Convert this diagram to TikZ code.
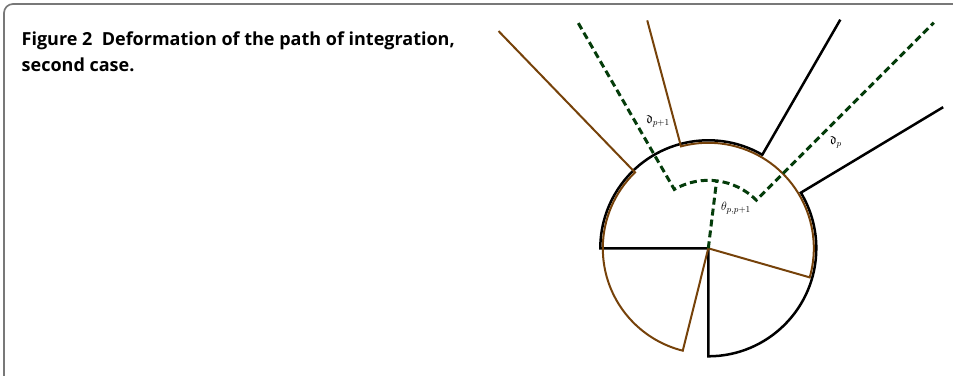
\documentclass[tikz,border=0pt]{standalone}
\usepackage{amssymb}
\usepackage{fontspec}
\newfontfamily\capfont{Open Sans}
\definecolor{framegray}{RGB}{120,120,120}
\definecolor{pathbrown}{RGB}{118,66,10}
\definecolor{pathgreen}{RGB}{4,60,10}

\begin{document}
\begin{tikzpicture}[x=1pt,y=1pt]
\useasboundingbox (0,0) rectangle (953,-375);
\clip (0,0) rectangle (953,-375);

% Frame
\draw[framegray, line width=1.7pt, rounded corners=9pt] (4,-4) rectangle (980,-400);

% Caption
\node[anchor=base west, inner sep=0pt, font=\capfont\bfseries\fontsize{18}{20}\selectfont] (capA) at (21.5,-45) {Figure 2\ \ Deformation of the path of integration,};
\node[anchor=base west, inner sep=0pt, font=\capfont\bfseries\fontsize{18}{20}\selectfont] (capB) at (21.5,-71.5) {second case.};

\begin{scope}[shift={(708.3,-248.3)}]
% Black path
\draw[line width=2.5pt, line join=miter] (60:264) -- (60:108) arc (60:180:108) -- (0,0) -- (270:108) arc (-90:31:108) -- (31:274);

% Brown path
\draw[pathbrown, line width=2pt, line join=miter] (134:302) -- (134:105.5) arc (134:256:105.5) -- (0,0) -- (-16:105.5) arc (-16:105:105.5) -- (105:236);

% Green deformed path
\draw[pathgreen, line width=3pt, dash pattern=on 7pt off 4pt] (120:260) -- (120:68) arc (120:45:68) -- (45:319);
\draw[pathgreen, line width=3pt, dash pattern=on 7pt off 4pt] (0,0) -- (83:68);
\end{scope}

% Labels
\node[font=\fontsize{13}{15}\selectfont] (dpone) at (658,-121) {$\mathfrak{d}_{p+1}$};
\node[font=\fontsize{13}{15}\selectfont] (dp) at (836,-142) {$\mathfrak{d}_{p}$};
\node[font=\fontsize{13}{15}\selectfont] (theta) at (736,-208) {$\theta_{p,p+1}$};

\end{tikzpicture}
\end{document}
